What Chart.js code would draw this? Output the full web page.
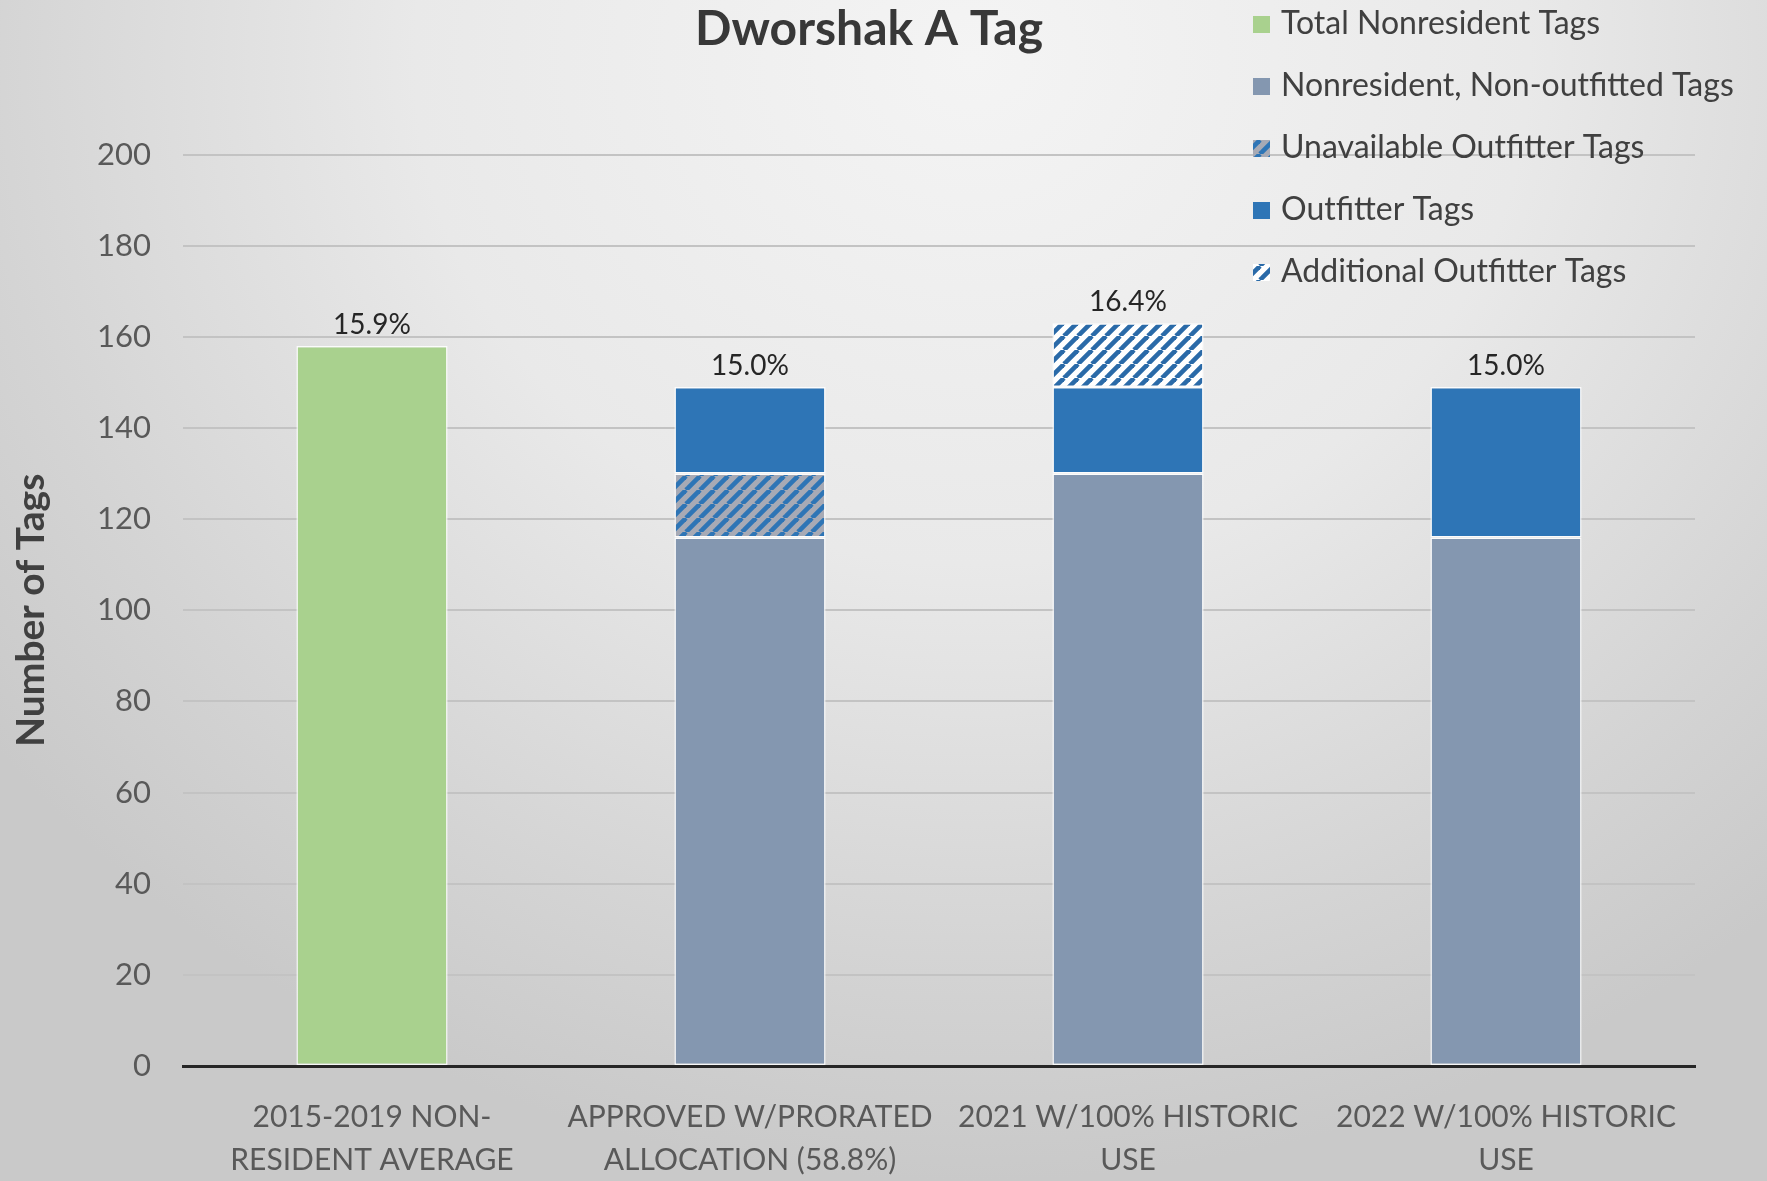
<!DOCTYPE html>
<html>
<head>
<meta charset="utf-8">
<script src="https://cdn.jsdelivr.net/npm/chart.js@4.4.1/dist/chart.umd.min.js"></script>
<style>
  html, body { margin: 0; padding: 0; }
  body {
    width: 1767px; height: 1181px; overflow: hidden;
    background: radial-gradient(ellipse 70% 95% at 55% 5%, #f4f4f4 0%, #e9e9e9 45%, #d4d4d4 80%, #c9c9c9 100%);
  }
  canvas { display: block; }
</style>
</head>
<body>
<canvas id="tagChart" width="1767" height="1181"></canvas>
<script>
// chart values
const categories = [
  ['2015-2019 NON-', 'RESIDENT AVERAGE'],
  ['APPROVED W/PRORATED', 'ALLOCATION (58.8%)'],
  ['2021 W/100% HISTORIC', 'USE'],
  ['2022 W/100% HISTORIC', 'USE']
];
const totalNonresident = [158, null, null, null];
const nonOutfitted = [null, 116, 130, 116];
const unavailableOutfitter = [null, 14, null, null];
const outfitterTags = [null, 19, 19, 33];
const additionalOutfitter = [null, null, 14, null];
const pctLabels = ['15.9%', '15.0%', '16.4%', '15.0%'];
const yTicks = [0, 200, 20]; // min, max, step

const FONT = 'Lato, "Open Sans", sans-serif';
const BLUE = '#2e75b6';

// diagonal stripe fill ("/" direction)
function stripes(bg, fg) {
  const s = 14;
  const c = document.createElement('canvas');
  c.width = s; c.height = s;
  const g = c.getContext('2d');
  if (bg) { g.fillStyle = bg; g.fillRect(0, 0, s, s); }
  g.strokeStyle = fg;
  g.lineWidth = 4.6;
  for (let k = -1; k <= 1; k++) {
    g.beginPath();
    g.moveTo(k * s, s);
    g.lineTo(k * s + s, 0);
    g.stroke();
  }
  return g.createPattern(c, 'repeat');
}

const hatchGray = stripes('#a7aab5', BLUE);
const hatchWhite = stripes('#ffffff', '#2a6aa8');

const ctx = document.getElementById('tagChart').getContext('2d');

// percentage above each stacked bar
const topLabels = {
  id: 'topLabels',
  afterDatasetsDraw(chart) {
    const c = chart.ctx;
    const y = chart.scales.y;
    const x = chart.scales.x;
    c.save();
    c.font = '28px ' + FONT;
    c.fillStyle = '#262626';
    c.textAlign = 'center';
    c.textBaseline = 'alphabetic';
    categories.forEach((cat, i) => {
      let sum = 0;
      chart.data.datasets.forEach(ds => { sum += ds.data[i] || 0; });
      c.fillText(pctLabels[i], x.getPixelForValue(i), y.getPixelForValue(sum) - 12);
    });
    c.restore();
  }
};

// legend in the top-right corner
const cornerLegend = {
  id: 'cornerLegend',
  afterDraw(chart) {
    const c = chart.ctx;
    c.save();
    c.font = '32px ' + FONT;
    c.textBaseline = 'middle';
    chart.data.datasets.forEach((ds, i) => {
      const cy = 24 + i * 62;
      c.fillStyle = ds.backgroundColor;
      c.fillRect(1253, cy - 8, 17, 17);
      c.fillStyle = '#404040';
      c.fillText(ds.label, 1281, cy);
    });
    c.restore();
  }
};

const barStyle = { barPercentage: 0.4, categoryPercentage: 1, borderColor: 'rgba(255,255,255,0.85)', borderWidth: 1.5, borderSkipped: false };

new Chart(ctx, {
  type: 'bar',
  data: {
    labels: categories,
    datasets: [
      Object.assign({ label: 'Total Nonresident Tags', data: totalNonresident, backgroundColor: '#a9d18e' }, barStyle),
      Object.assign({ label: 'Nonresident, Non-outfitted Tags', data: nonOutfitted, backgroundColor: '#8497b0' }, barStyle),
      Object.assign({ label: 'Unavailable Outfitter Tags', data: unavailableOutfitter, backgroundColor: hatchGray }, barStyle),
      Object.assign({ label: 'Outfitter Tags', data: outfitterTags, backgroundColor: BLUE }, barStyle),
      Object.assign({ label: 'Additional Outfitter Tags', data: additionalOutfitter, backgroundColor: hatchWhite }, barStyle)
    ]
  },
  options: {
    responsive: false,
    animation: false,
    devicePixelRatio: 1,
    layout: { padding: { top: 0, right: 72, bottom: 0, left: 43 } },
    plugins: {
      legend: { display: false },
      tooltip: { enabled: false },
      title: {
        display: true,
        text: 'Dworshak A Tag',
        color: '#383838',
        font: { family: FONT, size: 48, weight: 'bold', lineHeight: 1.2 },
        padding: { top: 1, bottom: 96 }
      }
    },
    scales: {
      x: {
        stacked: true,
        grid: { display: false, drawTicks: false },
        border: { display: true, color: '#262626', width: 3 },
        ticks: { color: '#595959', font: { family: FONT, size: 30, lineHeight: 1.43 }, padding: 30, maxRotation: 0, autoSkip: false },
        afterFit(scale) { scale.height = 115; }
      },
      y: {
        stacked: true,
        min: yTicks[0],
        max: yTicks[1],
        ticks: { stepSize: yTicks[2], color: '#595959', font: { family: FONT, size: 31 }, padding: 32 },
        grid: { color: '#c3c3c3', lineWidth: 2, drawTicks: false },
        border: { display: false },
        title: {
          display: true,
          text: 'Number of Tags',
          color: '#404040',
          font: { family: FONT, size: 39, weight: 'bold' },
          padding: { top: -35, bottom: 0 }
        },
        afterFit(scale) { scale.width = 140; }
      }
    }
  },
  plugins: [topLabels, cornerLegend]
});
</script>
</body>
</html>
